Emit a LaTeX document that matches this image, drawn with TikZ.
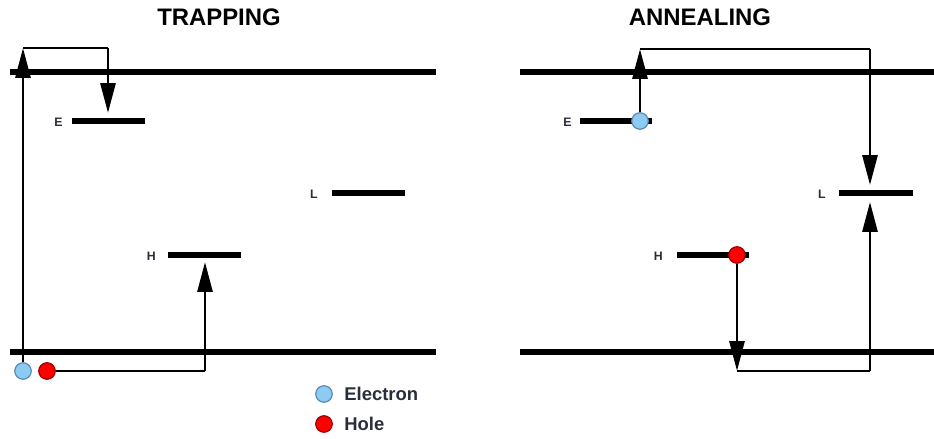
\documentclass[tikz,border=0pt]{standalone}
\usepackage{fontspec}
\setmainfont{Liberation Sans}
\usetikzlibrary{arrows.meta}
\definecolor{elec}{HTML}{8DCBF2}
\definecolor{elecb}{HTML}{5A8DB5}
\definecolor{holeb}{HTML}{A00000}
\definecolor{lbl}{HTML}{2A2E3A}
\tikzset{
  band/.style={line width=3.2pt},
  level/.style={line width=3.1pt},
  arr/.style={line width=1.7pt,-{Triangle[length=17pt,width=8.5pt]}},
  wire/.style={line width=1.5pt},
  electron/.style={circle,fill=elec,draw=elecb,line width=0.7pt,minimum size=0.33cm,inner sep=0pt},
  hole/.style={circle,fill=red,draw=holeb,line width=0.7pt,minimum size=0.33cm,inner sep=0pt},
  lvlabel/.style={font=\bfseries\fontsize{7}{8}\selectfont,text=lbl,anchor=east,inner sep=0pt},
  title/.style={font=\bfseries\fontsize{13.6}{15}\selectfont},
  legend/.style={font=\bfseries\fontsize{10.5}{12}\selectfont,text=lbl,anchor=west,inner sep=0pt}
}
\begin{document}
\begin{tikzpicture}[x=0.02cm,y=-0.02cm]
\useasboundingbox (0,0) rectangle (934,439);
% titles
\node[title] (t1) at (219,17) {TRAPPING};
\node[title] (t2) at (700,17) {ANNEALING};
% bands
\draw[band] (10,72) -- (436,72);
\draw[band] (10,352) -- (436,352);
\draw[band] (520,72) -- (934,72);
\draw[band] (520,352) -- (934,352);
% ---- left panel levels
\coordinate (E1a) at (72,121); \coordinate (E1b) at (145,121);
\coordinate (L1a) at (332,193); \coordinate (L1b) at (405,193);
\coordinate (H1a) at (168,255); \coordinate (H1b) at (241,255);
\draw[level] (E1a) -- (E1b);
\draw[level] (L1a) -- (L1b);
\draw[level] (H1a) -- (H1b);
\node[lvlabel] (E1l) at (63,122) {E};
\node[lvlabel] (L1l) at (318,194) {L};
\node[lvlabel] (H1l) at (156,256) {H};
% carriers
\node[electron] (e1) at (23,371) {};
\node[hole] (h1) at (47,371) {};
\coordinate (c1) at (23,48);
\coordinate (c2) at (108,48);
\coordinate (c3) at (108,113);
\draw[arr] (e1.north) -- (c1);
\draw[wire] (c1) -- (c2);
\draw[arr] (c2) -- (c3);
\coordinate (d1) at (205,371);
\coordinate (d2) at (205,262);
\draw[wire] (h1.east) -- (d1);
\draw[arr] (d1) -- (d2);
% legend
\node[electron] (le) at (324,394) {};
\node[legend] (lt1) at (344,394) {Electron};
\node[hole] (lh) at (324,424) {};
\node[legend] (lt2) at (344,424) {Hole};
% ---- right panel levels
\coordinate (E2a) at (580,121); \coordinate (E2b) at (652,121);
\coordinate (L2a) at (839,193); \coordinate (L2b) at (913,193);
\coordinate (H2a) at (677,255); \coordinate (H2b) at (749,255);
\draw[level] (E2a) -- (E2b);
\draw[level] (L2a) -- (L2b);
\draw[level] (H2a) -- (H2b);
\node[lvlabel] (E2l) at (572,122) {E};
\node[lvlabel] (L2l) at (826,194) {L};
\node[lvlabel] (H2l) at (663,256) {H};
\node[electron] (e2) at (640,121) {};
\node[hole] (h2) at (737,255) {};
\coordinate (f1) at (640,49);
\coordinate (f2) at (870,49);
\coordinate (f3) at (870,185);
\draw[arr] (e2.north) -- (f1);
\draw[wire] (f1) -- (f2);
\draw[arr] (f2) -- (f3);
\coordinate (g1) at (737,371);
\coordinate (g2) at (870,371);
\coordinate (g3) at (870,202);
\draw[arr] (h2.south) -- (g1);
\draw[wire] (g1) -- (g2);
\draw[arr] (g2) -- (g3);
\end{tikzpicture}
\end{document}
